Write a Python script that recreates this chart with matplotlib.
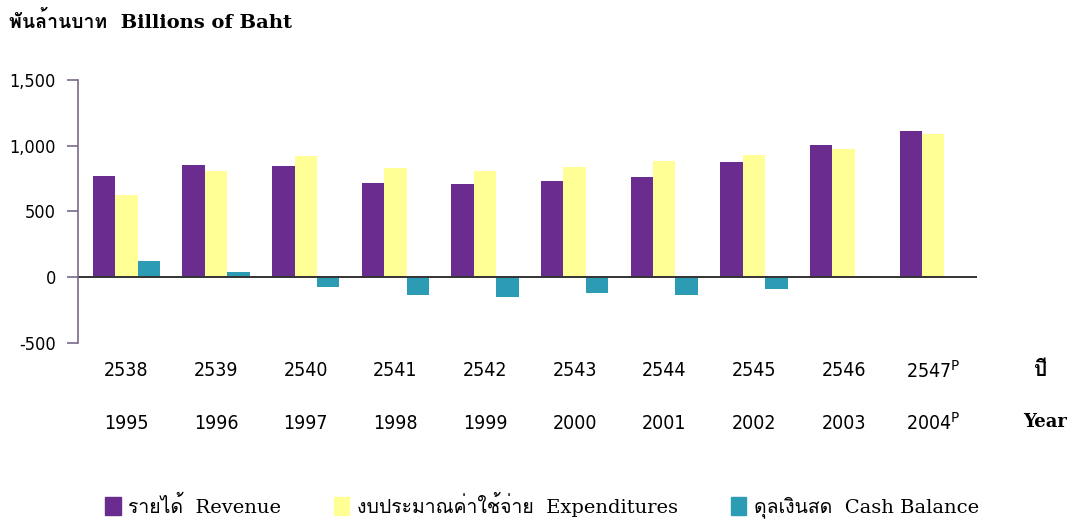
import numpy as np
import matplotlib
matplotlib.use('Agg')
import matplotlib.pyplot as plt
from matplotlib import font_manager, ft2font
from matplotlib.patches import Patch

# Data (billions of baht)
be_years = ['2538', '2539', '2540', '2541', '2542', '2543', '2544', '2545', '2546', '2547']
ce_years = ['1995', '1996', '1997', '1998', '1999', '2000', '2001', '2002', '2003', '2004']
revenue = [769, 852, 845, 715, 708, 731, 761, 875, 1005, 1111]
expenditures = [624, 807, 921, 829, 807, 837, 883, 928, 974, 1088]
cash_balance = [122, 38, -76, -137, -152, -122, -137, -91, 10, 0]
yticks = [-500, 0, 500, 1000, 1500]


def find_thai_font():
    # pick the first installed font that has Thai glyphs
    for f in font_manager.fontManager.ttflist:
        try:
            font = ft2font.FT2Font(f.fname)
            if 0x0E1E in font.get_charmap():
                return f.name
        except Exception:
            pass
    return None


thai = find_thai_font()
serif = ['DejaVu Serif'] if thai is None else ['DejaVu Serif', thai]
narrow = dict(family='DejaVu Sans', stretch='condensed')

c_rev = '#6a2c8e'
c_exp = '#ffff96'
c_cash = '#2c9cb4'

fig = plt.figure(figsize=(10.82, 5.22), dpi=100)
ax = fig.add_axes([0.0721, 0.343, 0.831, 0.5038])

x = np.arange(len(ce_years))
w = 0.25
ax.bar(x - w, revenue, w, color=c_rev)
ax.bar(x, expenditures, w, color=c_exp)
ax.bar(x + w, cash_balance, w, color=c_cash)
ax.axhline(0, color='#333333', lw=1.4)

ax.set_xlim(-0.54, 9.49)
ax.set_ylim(-500, 1500)
ax.set_yticks(yticks)
ax.set_yticklabels([f'{v:,}' for v in yticks], fontsize=13, **narrow)
ax.tick_params(axis='y', length=8, width=1.2, color='#7a6a8a', pad=8)
ax.set_xticks([])
for s in ['top', 'right', 'bottom']:
    ax.spines[s].set_visible(False)
ax.spines['left'].set_color('#7a6a8a')
ax.spines['left'].set_linewidth(1.2)

# two rows of year labels under the axis
for i in x:
    sup = '$^{\\mathsf{P}}$' if i == len(x) - 1 else ''
    ax.text(i, -710, be_years[i] + sup, ha='center', va='center', fontsize=14, **narrow)
    ax.text(i, -1110, ce_years[i] + sup, ha='center', va='center', fontsize=14, **narrow)
fig.text(0.962, 1 - 370 / 522, 'ปี', ha='center', va='center', fontsize=15,
         fontweight='bold', family=serif)
fig.text(0.966, 1 - 422 / 522, 'Year', ha='center', va='center', fontsize=13,
         fontweight='bold', family=serif)

fig.text(0.008, 1 - 22 / 522, 'พันล้านบาท  Billions of Baht', ha='left', va='center',
         fontsize=14, fontweight='bold', family=serif)

handles = [Patch(color=c_rev), Patch(color=c_exp), Patch(color=c_cash)]
labels = ['รายได้  Revenue', 'งบประมาณค่าใช้จ่าย  Expenditures', 'ดุลเงินสด  Cash Balance']
fig.legend(handles, labels, loc='center', bbox_to_anchor=(0.501, 1 - 505 / 522), ncol=3,
           frameon=False, handlelength=0.8, handleheight=1.1, handletextpad=0.4,
           columnspacing=2.7, prop={'family': serif, 'size': 14})

fig.savefig('out.png', dpi=100)
